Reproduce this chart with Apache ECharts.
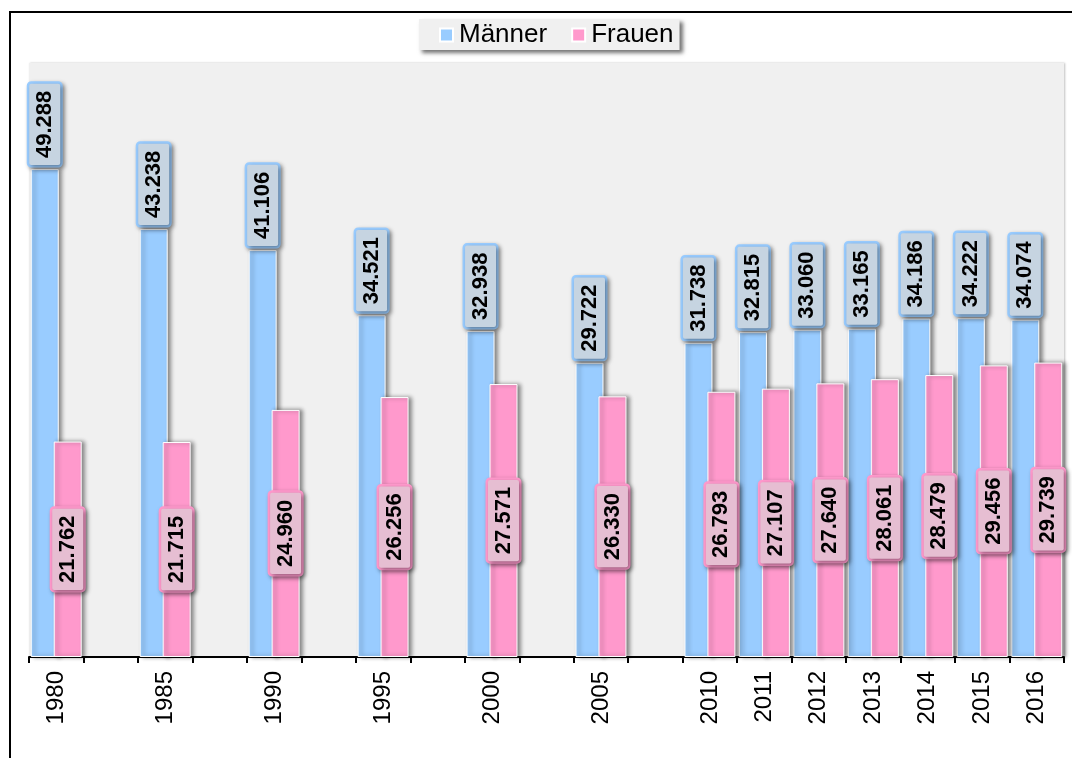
<!DOCTYPE html>
<html>
<head>
<meta charset="utf-8">
<script src="https://cdn.jsdelivr.net/npm/echarts@6/dist/echarts.min.js"></script>
<style>
html,body{margin:0;padding:0;background:#fff;}
#chart{width:1072px;height:758px;}
</style>
</head>
<body>
<div id="chart"></div>
<script>
// ---- data ----
const years = [1980, 1985, 1990, 1995, 2000, 2005, 2010, 2011, 2012, 2013, 2014, 2015, 2016];
const maenner = [49.288, 43.238, 41.106, 34.521, 32.938, 29.722, 31.738, 32.815, 33.060, 33.165, 34.186, 34.222, 34.074];
const frauen  = [21.762, 21.715, 24.960, 26.256, 27.571, 26.330, 26.793, 27.107, 27.640, 28.061, 28.479, 29.456, 29.739];
const seriesNames = ['Männer', 'Frauen'];

// build category axis with an empty slot between 5-year steps
const categories = [];
const menData = [];
const womenData = [];
years.forEach(function (y, i) {
  if (i > 0 && y - years[i - 1] > 1) {
    categories.push('');
    menData.push(null);
    womenData.push(null);
  }
  categories.push(String(y));
  menData.push(maenner[i]);
  womenData.push(frauen[i]);
});

const FONT = "'Liberation Sans', Arial, sans-serif";
const chart = echarts.init(document.getElementById('chart'));

function fmt(p) { return p.value == null ? '' : Number(p.value).toFixed(3); }

chart.setOption({
  animation: false,
  backgroundColor: '#ffffff',
  graphic: [{
    type: 'rect',
    shape: { x: 10, y: 12, width: 1100, height: 800 },
    style: { fill: 'none', stroke: '#000', lineWidth: 2 },
    z: 100
  }],
  legend: {
    data: seriesNames,
    left: 419,
    top: 19,
    icon: 'rect',
    itemWidth: 13,
    itemHeight: 13,
    itemGap: 24,
    padding: [3, 6, 2, 20],
    backgroundColor: '#f0f0f0',
    shadowColor: 'rgba(0,0,0,0.55)',
    shadowBlur: 4,
    shadowOffsetX: 3,
    shadowOffsetY: 3,
    textStyle: { fontFamily: FONT, fontSize: 26, color: '#000', padding: [0, 0, 0, 1] }
  },
  grid: {
    left: 29, right: 8, top: 63, bottom: 101,
    show: true, backgroundColor: '#f0f0f0', borderWidth: 0,
    shadowColor: 'rgba(0,0,0,0.25)', shadowBlur: 2, shadowOffsetX: 1
  },
  xAxis: {
    type: 'category',
    data: categories,
    boundaryGap: true,
    axisLine: { lineStyle: { color: '#000', width: 2 } },
    axisTick: { show: true, interval: 0, length: 6, lineStyle: { color: '#000', width: 2 } },
    axisLabel: { interval: 0, rotate: 90, margin: 14, fontFamily: FONT, fontSize: 24, color: '#000' },
    splitLine: { show: false }
  },
  yAxis: {
    type: 'value', min: 0, max: 60,
    show: false,
    splitLine: { show: false }
  },
  series: [
    {
      name: seriesNames[0],
      type: 'bar',
      data: menData,
      barWidth: 28,
      barGap: '-18%',
      itemStyle: {
        color: '#99ccff', borderColor: '#ffffff', borderWidth: 1,
        shadowColor: 'rgba(0,0,0,0.45)', shadowBlur: 4, shadowOffsetX: 3, shadowOffsetY: 0
      },
      label: {
        show: true, position: 'top', rotate: 90, align: 'left', verticalAlign: 'middle',
        distance: 4, formatter: fmt,
        fontFamily: FONT, fontSize: 22, fontWeight: 'bold', color: '#000',
        backgroundColor: '#c6d4e1', borderColor: '#99ccff', borderWidth: 2.5, borderRadius: 2,
        padding: [5, 7, 4, 7], lineHeight: 22,
        shadowColor: 'rgba(0,0,0,0.4)', shadowBlur: 4, shadowOffsetX: 2, shadowOffsetY: 2
      }
    },
    {
      name: seriesNames[1],
      type: 'bar',
      data: womenData,
      barWidth: 28,
      itemStyle: {
        color: '#ff99cc', borderColor: '#ffffff', borderWidth: 1,
        shadowColor: 'rgba(0,0,0,0.45)', shadowBlur: 4, shadowOffsetX: 3, shadowOffsetY: 0
      },
      label: {
        show: true, position: 'inside', rotate: 90, formatter: fmt,
        fontFamily: FONT, fontSize: 22, fontWeight: 'bold', color: '#000',
        backgroundColor: '#e6bed2', borderColor: '#ff99cc', borderWidth: 2.5, borderRadius: 2,
        padding: [5, 7, 4, 7], lineHeight: 22,
        shadowColor: 'rgba(0,0,0,0.4)', shadowBlur: 4, shadowOffsetX: 2, shadowOffsetY: 2
      }
    }
  ]
});
</script>
</body>
</html>
